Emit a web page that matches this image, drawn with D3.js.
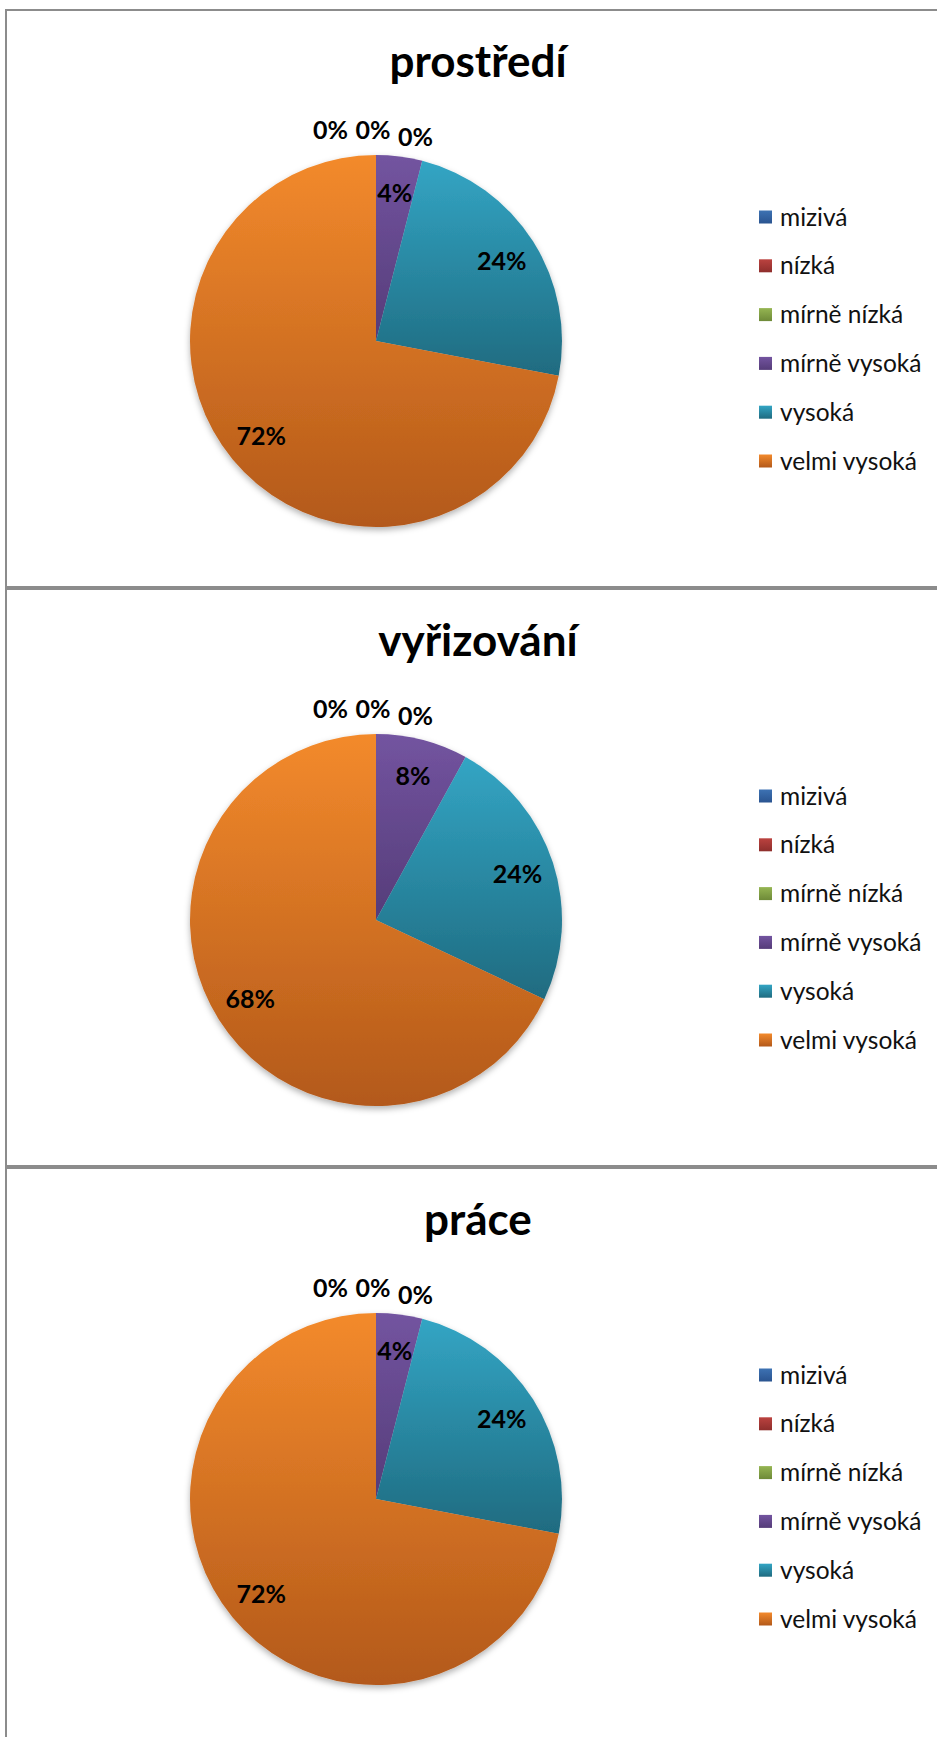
<!DOCTYPE html>
<html>
<head>
<meta charset="utf-8">
<script src="https://cdn.jsdelivr.net/npm/d3@7"></script>
<style>
body{margin:0;background:#fff;}
svg{display:block;}
</style>
</head>
<body>
<script>
var categories=["mizivá","nízká","mírně nízká","mírně vysoká","vysoká","velmi vysoká"]
var titles=["prostředí","vyřizování","práce"]
var prostredi=[0,0,0,4,24,72]
var vyrizovani=[0,0,0,8,24,68]
var prace=[0,0,0,4,24,72]
var series=[prostredi,vyrizovani,prace]
// light / dark end of each slice gradient
var lightColors=["#3d72b3","#bb423f","#95b552","#7354a0","#33a5c4","#f38a2c"]
var darkColors=["#2a5490","#8e2e2c","#6e8a38","#553c79","#1f6b80","#b3591a"]
///////////////////////////////////////////////////////////////////
var screen={width:937,height:1737}
var panelH=579, panelTop=10, radius=186
var svg=d3.select("body")
          .append("svg")
          .attr("width",screen.width)
          .attr("height",screen.height)
svg.append("rect").attr("width",screen.width).attr("height",screen.height).attr("fill","white")

var defs=svg.append("defs")
categories.forEach(function(c,i){
  var g=defs.append("linearGradient")
            .attr("id","grad"+i)
            .attr("x1",0).attr("y1",0).attr("x2",0).attr("y2",1)
  g.append("stop").attr("offset","0%").attr("stop-color",lightColors[i])
  g.append("stop").attr("offset","100%").attr("stop-color",darkColors[i])
})
var shadow=defs.append("filter").attr("id","shadow")
               .attr("x","-10%").attr("y","-10%").attr("width","120%").attr("height","125%")
shadow.append("feDropShadow")
      .attr("dx",0).attr("dy",3).attr("stdDeviation",3)
      .attr("flood-color","#000").attr("flood-opacity",0.3)

var pie=d3.pie().sort(null).value(function(d){return d})
var arc=d3.arc().innerRadius(0).outerRadius(radius)
var labelArc=d3.arc().innerRadius(radius*0.8).outerRadius(radius*0.8)
///////////////////////////////////////////////////////////////////
var drawPanel=function(data,title,p){
  var top=panelTop+p*panelH
  var panel=svg.append("g").attr("transform","translate(0,"+top+")")
  panel.append("rect")
       .attr("x",6).attr("y",0)
       .attr("width",1000).attr("height",panelH-2)
       .attr("fill","none")
       .attr("stroke","#8c8c8c")
       .attr("stroke-width",2)
  panel.append("text")
       .attr("x",478).attr("y",67)
       .attr("text-anchor","middle")
       .attr("font-family","Lato, 'Open Sans', sans-serif")
       .attr("font-weight","bold")
       .attr("font-size",44)
       .attr("fill","#000")
       .text(title)

  var cx=376, cy=331
  var g=panel.append("g").attr("transform","translate("+cx+","+cy+")")
  var arcs=pie(data)
  g.append("g").attr("filter","url(#shadow)")
   .selectAll("path")
   .data(arcs)
   .enter()
   .append("path")
   .attr("d",arc)
   .attr("fill",function(d,i){return "url(#grad"+i+")"})

  // zero slices: labels sit in a row above the pie, the last one nudged down
  var zeros=arcs.filter(function(d){return d.data==0}).length
  var zeroIndex=0
  g.selectAll("text")
   .data(arcs)
   .enter()
   .append("text")
   .attr("transform",function(d){
     if(d.data==0){
       var k=zeroIndex++
       var x=Math.sin(d.startAngle)*radius+(k-1)*42.5-3
       var y=-Math.cos(d.startAngle)*(radius+25)+(k==zeros-1?7:0)
       return "translate("+x+","+y+")"
     }
     return "translate("+labelArc.centroid(d)+")"
   })
   .attr("dy","0.35em")
   .attr("text-anchor","middle")
   .attr("font-family","Lato, 'Open Sans', sans-serif")
   .attr("font-weight","bold")
   .attr("font-size",25)
   .attr("fill","#000")
   .text(function(d){return d.data+"%"})

  var legend=panel.append("g")
                  .selectAll("g")
                  .data(categories)
                  .enter()
                  .append("g")
                  .attr("transform",function(d,i){return "translate(759,"+(207+i*48.8)+")"})
  legend.append("rect")
        .attr("x",0).attr("y",-6.5)
        .attr("width",13).attr("height",13)
        .attr("fill",function(d,i){return "url(#grad"+i+")"})
  legend.append("text")
        .attr("x",21).attr("dy","0.35em")
        .attr("font-family","Lato, 'Open Sans', sans-serif")
        .attr("font-size",24.5)
        .attr("fill","#111")
        .text(function(d){return d})
}
series.forEach(function(s,i){
  drawPanel(s,titles[i],i)
})
</script>
</body>
</html>
